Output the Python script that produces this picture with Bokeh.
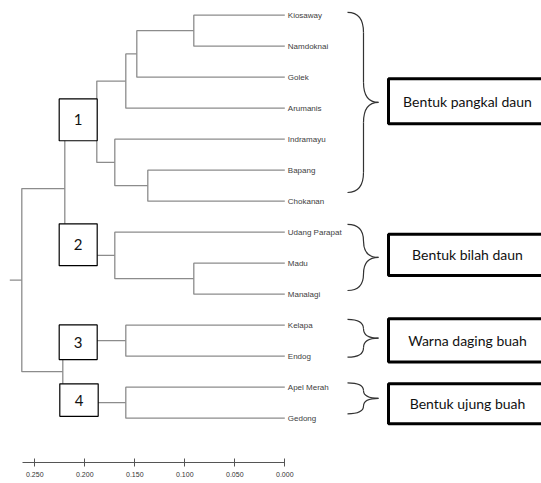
from bokeh.plotting import figure
from bokeh.models import Range1d, FixedTicker, ColumnDataSource
from bokeh.core.properties import value
from bokeh.embed import file_html
from bokeh.resources import INLINE

# ---------------- data ----------------
leaves = ["Kiosaway", "Namdoknai", "Golek", "Arumanis", "Indramayu", "Bapang",
          "Chokanan", "Udang Parapat", "Madu", "Manalagi", "Kelapa", "Endog",
          "Apel Merah", "Gedong"]
# merges: (left child, right child, new name, distance)
merge_left = ["Kiosaway", "KN", "KNG", "Bapang", "Indramayu", "A1", "Madu", "Udang Parapat", "C1", "Kelapa", "Apel Merah", "C3", "C12"]
merge_right = ["Namdoknai", "Golek", "Arumanis", "Chokanan", "BC", "B1", "Manalagi", "MM", "C2", "Endog", "Gedong", "C4", "C34"]
merge_name = ["KN", "KNG", "A1", "BC", "B1", "C1", "MM", "C2", "C12", "C3", "C4", "C34", "ROOT"]
merge_dist = [0.091, 0.148, 0.159, 0.137, 0.170, 0.188, 0.091, 0.170, 0.220, 0.159, 0.159, 0.222, 0.263]
root_tail = 0.275

tick_values = [0.0, 0.05, 0.10, 0.15, 0.20, 0.25]
tick_labels = ["0.000", "0.050", "0.100", "0.150", "0.200", "0.250"]

group_numbers = ["1", "2", "3", "4"]
group_titles = ["Bentuk pangkal daun", "Bentuk bilah daun", "Warna daging buah", "Bentuk ujung buah"]
# brace spans in leaf-index units (top, bottom)
brace_top = [-0.09, 6.75, 9.81, 11.86]
brace_bot = [5.72, 8.88, 11.03, 12.86]

# ---------------- layout ----------------
W, H = 541, 483
FRAME_H = 462
ROW = 31.0
TOP = 14.7
p = figure(width=W, height=H, output_backend="svg", toolbar_location=None,
           x_range=Range1d(0.2843, -0.2567),
           y_range=Range1d((FRAME_H - TOP) / ROW, -TOP / ROW),
           y_axis_location=None, min_border_left=0, min_border_right=0,
           min_border_top=0, min_border_bottom=H - FRAME_H)
p.grid.visible = False
p.outline_line_color = None
p.background_fill_color = "white"

# ---------------- dendrogram ----------------
pos = {name: (float(i), 0.0) for i, name in enumerate(leaves)}
xs, ys = [], []
for l, r, n, d in zip(merge_left, merge_right, merge_name, merge_dist):
    yl, dl = pos[l]
    yr, dr = pos[r]
    xs.append([dl, d, d, dr])
    ys.append([yl, yl, yr, yr])
    pos[n] = ((yl + yr) / 2, d)
ry, rd = pos["ROOT"]
xs.append([rd, root_tail])
ys.append([ry, ry])
p.multi_line(xs, ys, line_color="#8c8c8c", line_width=1.3)

# leaf labels
p.text(x=[0.0] * len(leaves), y=list(range(len(leaves))), text=leaves,
       x_offset=3, text_baseline="middle", text_align="left",
       text_font=value("Liberation Sans"), text_font_size="8px",
       text_color="#404040")

# number boxes
nb_left = [0.2256, 0.2256, 0.2256, 0.2250]
nb_right = [0.1876, 0.1876, 0.1876, 0.1866]
nb_top = [2.70, 6.73, 9.99, 11.89]
nb_bot = [4.05, 8.08, 11.11, 12.94]
p.quad(left=nb_left, right=nb_right, top=nb_top, bottom=nb_bot,
       fill_color="white", line_color="black", line_width=1.2)
p.text(x=[(a + b) / 2 for a, b in zip(nb_left, nb_right)],
       y=[(a + b) / 2 for a, b in zip(nb_top, nb_bot)], text=group_numbers,
       text_align="center", text_baseline="middle",
       text_font=value("Lato"), text_font_size="15px", text_color="#111111")

# braces
bx0, bxm, bxt = -0.0627, -0.0787, -0.0937
q = dict(x0=[], y0=[], x1=[], y1=[], cx=[], cy=[])
sx0, sy0, sx1, sy1 = [], [], [], []
for t, b in zip(brace_top, brace_bot):
    mid = (t + b) / 2
    half = (b - t) / 2
    r = min(0.65, half / 2)
    for sgn, end in ((1, t), (-1, b)):
        q["x0"].append(bx0); q["y0"].append(end)
        q["x1"].append(bxm); q["y1"].append(end + sgn * r)
        q["cx"].append(bxm); q["cy"].append(end)
        q["x0"].append(bxm); q["y0"].append(mid - sgn * r)
        q["x1"].append(bxt); q["y1"].append(mid)
        q["cx"].append(bxm); q["cy"].append(mid)
        sx0.append(bxm); sy0.append(end + sgn * r)
        sx1.append(bxm); sy1.append(mid - sgn * r)
p.quadratic(source=ColumnDataSource(q), x0="x0", y0="y0", x1="x1", y1="y1",
            cx="cx", cy="cy", line_color="#333333", line_width=1.2)
p.segment(x0=sx0, y0=sy0, x1=sx1, y1=sy1, line_color="#333333", line_width=1.2)

# title boxes
tb_left = [-0.1037] * 4
tb_right = [-0.2620] * 4
tb_top = [2.05, 7.07, 9.79, 11.89]
tb_bot = [3.50, 8.40, 11.19, 13.18]
p.quad(left=tb_left, right=tb_right, top=tb_top, bottom=tb_bot,
       fill_color="white", line_color="black", line_width=3)
p.text(x=[-0.1827] * 4, y=[(a + b) / 2 for a, b in zip(tb_top, tb_bot)],
       text=group_titles, text_align="center", text_baseline="middle",
       text_font=value("Lato"), text_font_size="14px", text_color="#111111")

# axis
ax = p.xaxis[0]
ax.ticker = FixedTicker(ticks=tick_values)
ax.major_label_overrides = {v: s for v, s in zip(tick_values, tick_labels)}
ax.bounds = (0.0, 0.2626)
ax.major_tick_in = 4
ax.major_tick_out = 4
ax.minor_tick_line_color = None
ax.axis_line_color = "#555555"
ax.major_tick_line_color = "#555555"
ax.major_label_text_font = "Liberation Sans"
ax.major_label_text_font_size = "7px"
ax.major_label_text_color = "#333333"
ax.major_label_standoff = 5

open("out.html", "w").write(file_html(p, INLINE))
